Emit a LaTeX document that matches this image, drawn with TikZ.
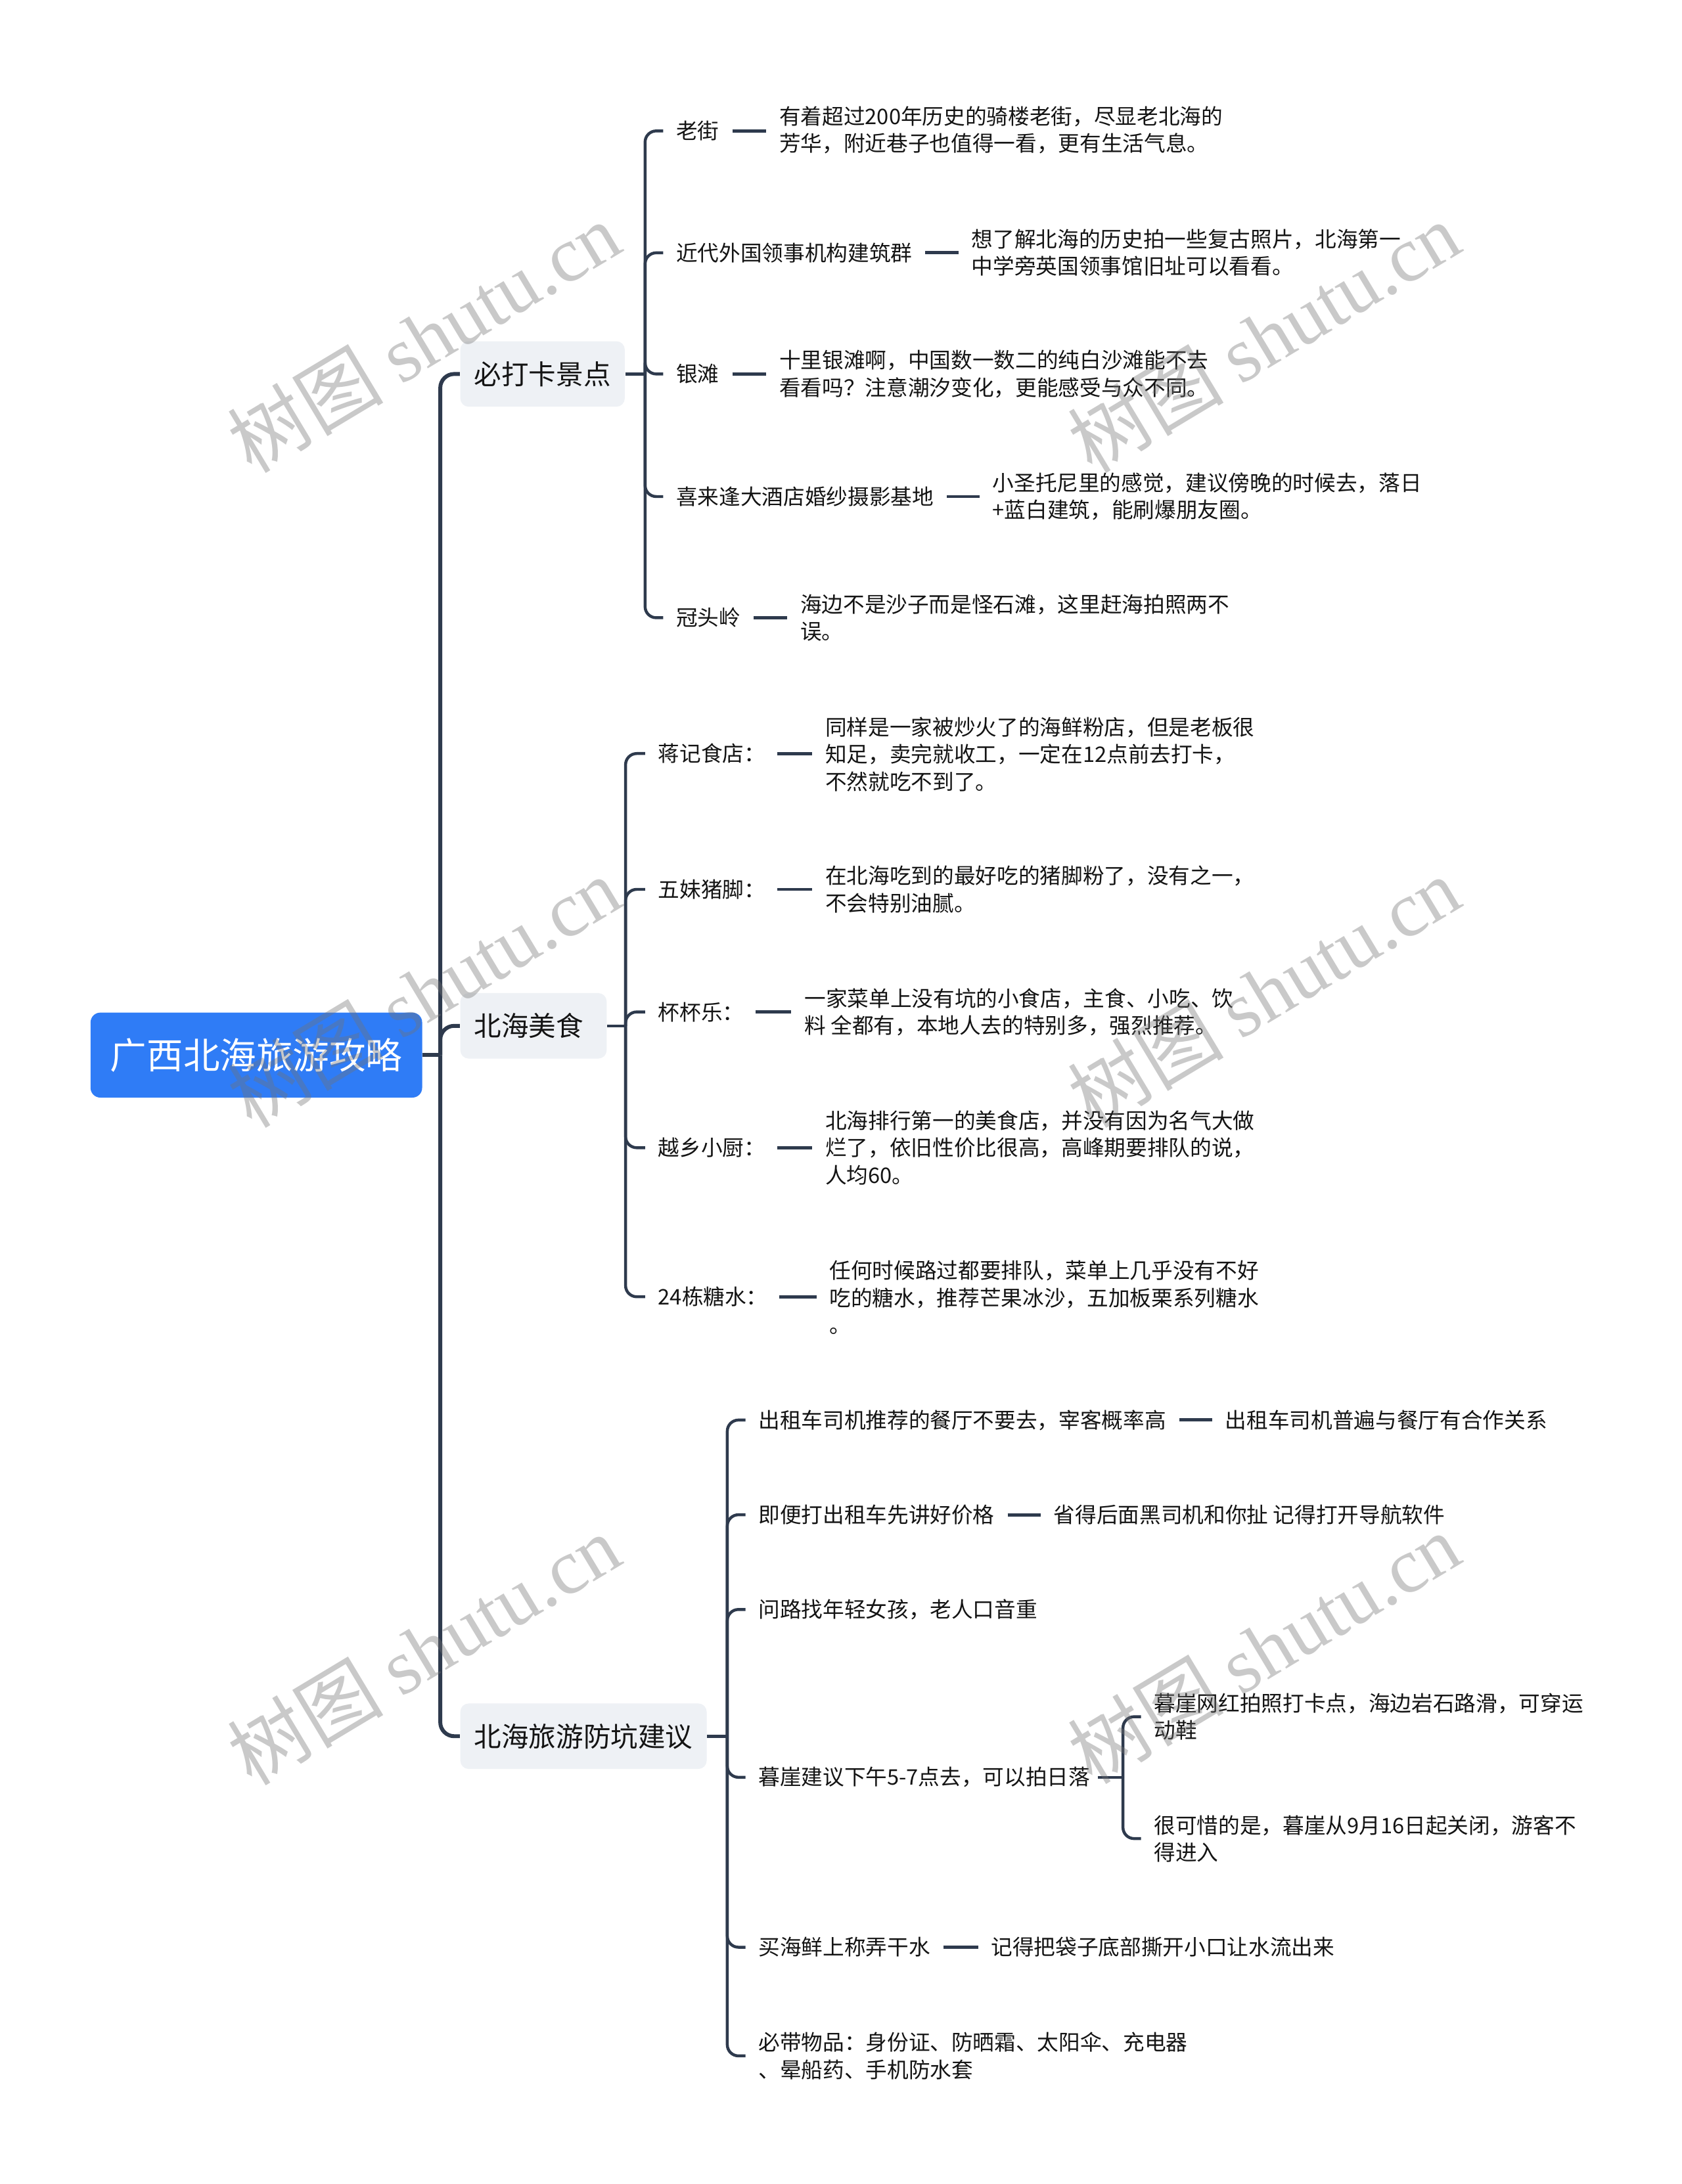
\documentclass[tikz,border=0pt]{standalone}
\usepackage{fontspec}
\setmainfont{Noto Sans CJK SC}
\newfontfamily\wmlatin{Liberation Serif}
\usetikzlibrary{calc}
\definecolor{lc}{HTML}{2E3A4D}
\definecolor{rootblue}{HTML}{2F7CF6}
\definecolor{lonefill}{HTML}{EEF1F5}
\begin{document}
\begin{tikzpicture}[x=0.5pt,y=-0.5pt,
  txt/.style={inner sep=0pt, anchor=west, align=left, font=\fontsize{7.7pt}{9.75pt}\selectfont, text=black!92},
  lonebox/.style={fill=lonefill, rounded corners=3pt, inner xsep=5pt, inner ysep=0pt, minimum height=23.5pt, anchor=west, font=\fontsize{9.8pt}{12pt}\selectfont, text=black!92},
  rootbox/.style={fill=rootblue, rounded corners=3.5pt, text=white, inner sep=0pt, minimum width=119pt, minimum height=30.5pt, font=\fontsize{13.1pt}{15pt}\selectfont},
  cone/.style={draw=lc, line width=1.4pt, rounded corners=5pt},
  ctwo/.style={draw=lc, line width=1.05pt, rounded corners=4pt},
  dsh/.style={draw=lc, line width=1.15pt},
  wm/.style={text=black!55, opacity=0.38, font=\fontsize{28pt}{30pt}\selectfont, rotate=31, inner sep=0pt}
]
\fill[white] (0,0) rectangle (1207,1568);
\useasboundingbox (0,0) rectangle (1207,1568);

% root and level 1
\node[rootbox] (root) at (184,757.5) {广西北海旅游攻略};
\node[lonebox] (b1) at (330,268.5) {必打卡景点};
\node[lonebox, text width=42.5pt, align=left] (b2) at (330,736.5) {北海美食};
\node[lonebox] (b3) at (330,1246.5) {北海旅游防坑建议};

\draw[cone] (root.east) -- (316,757.5);
\draw[cone] (316,757.5) |- (b1.west);
\draw[cone] (316,757.5) |- (b2.west);
\draw[cone] (316,757.5) |- (b3.west);

% branch 1
\node[txt] (a1) at (485,94) {老街};
\node[txt] (d1) at (559,93.5) {有着超过200年历史的骑楼老街，尽显老北海的\\芳华，附近巷子也值得一看，更有生活气息。};
\node[txt] (a2) at (485,181.5) {近代外国领事机构建筑群};
\node[txt] (d2) at (697,181.5) {想了解北海的历史拍一些复古照片，北海第一\\中学旁英国领事馆旧址可以看看。};
\node[txt] (a3) at (485,268.5) {银滩};
\node[txt] (d3) at (559,268.5) {十里银滩啊，中国数一数二的纯白沙滩能不去\\看看吗？注意潮汐变化，更能感受与众不同。};
\node[txt] (a4) at (485,356.5) {喜来逢大酒店婚纱摄影基地};
\node[txt] (d4) at (712,356.5) {小圣托尼里的感觉，建议傍晚的时候去，落日\\+蓝白建筑，能刷爆朋友圈。};
\node[txt] (a5) at (485,443.5) {冠头岭};
\node[txt] (d5) at (574,443.5) {海边不是沙子而是怪石滩，这里赶海拍照两不\\误。};

\draw[ctwo] (b1.east) -- (463,268.5);
\foreach \n in {a1,a2,a3,a4,a5}{
  \draw[ctwo] (463,268.5) |- ($(\n.west)+(-9,0)$);
}
\foreach \a/\d in {a1/d1,a2/d2,a3/d3,a4/d4,a5/d5}{
  \draw[dsh] ($(\a.east)+(9,0)$) -- ($(\a.east -| \d.west)+(-9,0)$);
}

% branch 2
\node[txt] (e1) at (472,541) {蒋记食店：};
\node[txt] (f1) at (592,541.5) {同样是一家被炒火了的海鲜粉店，但是老板很\\知足，卖完就收工，一定在12点前去打卡，\\不然就吃不到了。};
\node[txt] (e2) at (472,638.5) {五妹猪脚：};
\node[txt] (f2) at (592,638.5) {在北海吃到的最好吃的猪脚粉了，没有之一，\\不会特别油腻。};
\node[txt] (e3) at (472,726.5) {杯杯乐：};
\node[txt] (f3) at (577,726.5) {一家菜单上没有坑的小食店，主食、小吃、饮\\料 全都有，本地人去的特别多，强烈推荐。};
\node[txt] (e4) at (472,824) {越乡小厨：};
\node[txt] (f4) at (592,824) {北海排行第一的美食店，并没有因为名气大做\\烂了，依旧性价比很高，高峰期要排队的说，\\人均60。};
\node[txt] (e5) at (472,931) {24栋糖水：};
\node[txt] (f5) at (595,931.5) {任何时候路过都要排队，菜单上几乎没有不好\\吃的糖水，推荐芒果冰沙，五加板栗系列糖水\\。};

\draw[ctwo] (b2.east) -- (449,736.5);
\foreach \n in {e1,e2,e3,e4,e5}{
  \draw[ctwo] (449,736.5) |- ($(\n.west)+(-9,0)$);
}
\foreach \a/\d in {e1/f1,e2/f2,e3/f3,e4/f4,e5/f5}{
  \draw[dsh] ($(\a.east)+(8,0)$) -- ($(\a.east -| \d.west)+(-9,0)$);
}

% branch 3
\node[txt] (g1) at (544,1019.5) {出租车司机推荐的餐厅不要去，宰客概率高};
\node[txt] (h1) at (879,1019.5) {出租车司机普遍与餐厅有合作关系};
\node[txt] (g2) at (544,1087.5) {即便打出租车先讲好价格};
\node[txt] (h2) at (756,1087.5) {省得后面黑司机和你扯 记得打开导航软件};
\node[txt] (g3) at (544,1155.5) {问路找年轻女孩，老人口音重};
\node[txt] (g4) at (544,1276) {暮崖建议下午5-7点去，可以拍日落};
\node[txt] (k1) at (828,1232.5) {暮崖网红拍照打卡点，海边岩石路滑，可穿运\\动鞋};
\node[txt] (k2) at (828,1320) {很可惜的是，暮崖从9月16日起关闭，游客不\\得进入};
\node[txt] (g5) at (544,1398) {买海鲜上称弄干水};
\node[txt] (h5) at (711,1398) {记得把袋子底部撕开小口让水流出来};
\node[txt] (g6) at (544,1476) {必带物品：身份证、防晒霜、太阳伞、充电器\\、晕船药、手机防水套};

\draw[ctwo] (b3.east) -- (522,1246.5);
\foreach \n in {g1,g2,g3,g4,g5,g6}{
  \draw[ctwo] (522,1246.5) |- ($(\n.west)+(-9,0)$);
}
\foreach \a/\d in {g1/h1,g2/h2,g5/h5}{
  \draw[dsh] ($(\a.east)+(9,0)$) -- ($(\a.east -| \d.west)+(-9,0)$);
}
\draw[ctwo] ($(g4.east)+(5,0)$) -- (806,1276);
\foreach \n in {k1,k2}{
  \draw[ctwo] (806,1276) |- ($(\n.west)+(-9,0)$);
}

% watermarks
\foreach \p in {(304,242),(907,242),(304,712),(907,712),(304,1184),(907,1183)}{
  \node[wm] at \p {树图 {\wmlatin shutu.cn}};
}
\end{tikzpicture}
\end{document}
